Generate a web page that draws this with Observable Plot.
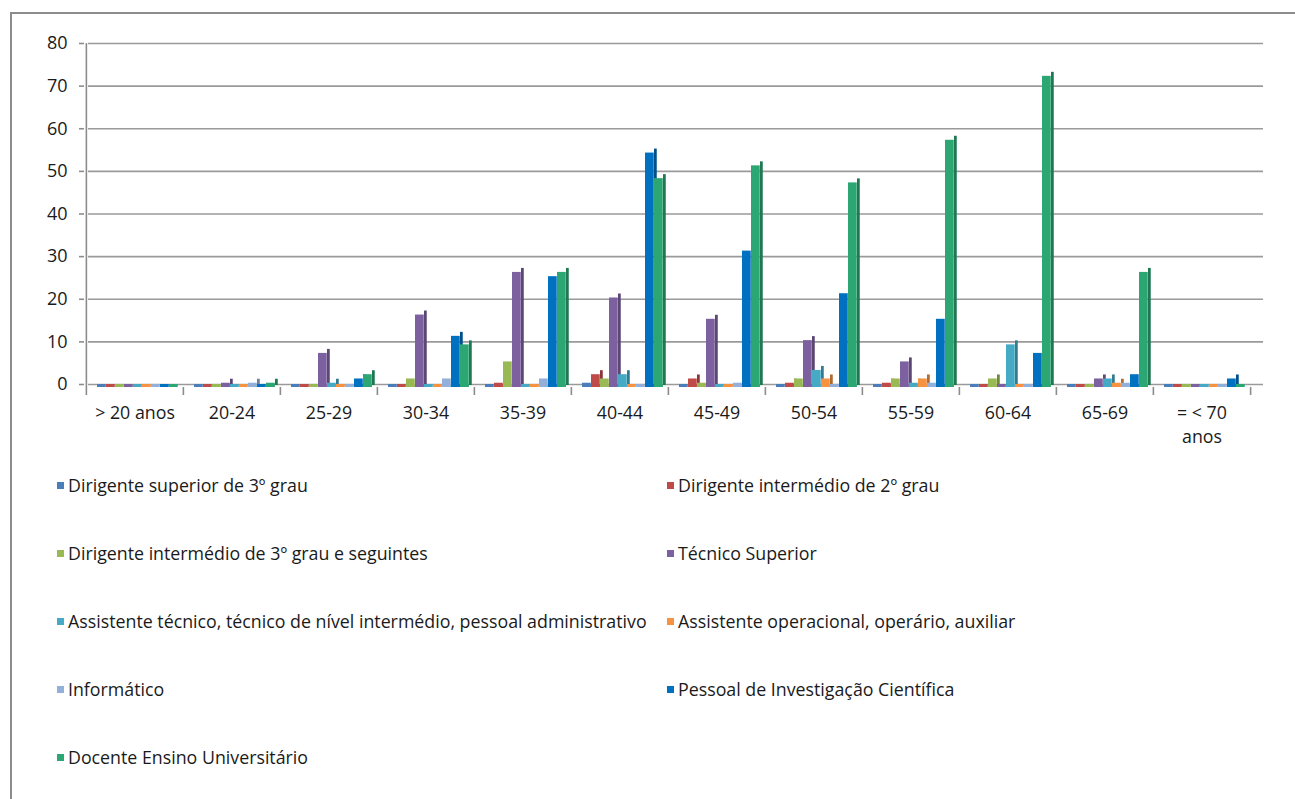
<!DOCTYPE html>
<html>
<head>
<meta charset="utf-8">
<script src="https://cdn.jsdelivr.net/npm/d3@7"></script>
<script src="https://cdn.jsdelivr.net/npm/@observablehq/plot@0.6"></script>
<style>
  body { margin: 0; background: #fff; font-family: "Open Sans", Lato, sans-serif; }
  #wrap { position: relative; width: 1295px; height: 799px; overflow: hidden; background: #fff; }
  #border { position: absolute; left: 10px; top: 12px; width: 1300px; height: 800px; border: 2px solid #8c8c8c; box-sizing: border-box; }
  #chart { position: absolute; left: 0; top: 0; }
  .leg { position: absolute; display: flex; align-items: center; font-size: 17.8px; color: #1a1a1a; white-space: nowrap; line-height: 22px; }
  .leg .sw { width: 7px; height: 7px; margin-right: 4px; flex: none; }
</style>
</head>
<body>
<div id="wrap">
  <div id="border"></div>
  <div id="chart"></div>
  <div id="legend"></div>
</div>
<script>
const categories = ["> 20 anos", "20-24", "25-29", "30-34", "35-39", "40-44", "45-49", "50-54", "55-59", "60-64", "65-69", "= < 70 anos"];
const series = [
  "Dirigente superior de 3º grau",
  "Dirigente intermédio de 2º grau",
  "Dirigente intermédio de 3º grau e seguintes",
  "Técnico Superior",
  "Assistente técnico, técnico de nível intermédio, pessoal administrativo",
  "Assistente operacional, operário, auxiliar",
  "Informático",
  "Pessoal de Investigação Científica",
  "Docente Ensino Universitário"
];
const colors = ["#4a7ebb", "#be4b48", "#98b954", "#7d60a0", "#46aac5", "#f69240", "#92b0d9", "#0070c0", "#2ca673"];

const dirigenteSuperior3 = [0, 0, 0, 0, 0, 1, 0, 0, 0, 0, 0, 0];
const dirigenteIntermedio2 = [0, 0, 0, 0, 1, 3, 2, 1, 1, 0, 0, 0];
const dirigenteIntermedio3 = [0, 0, 0, 2, 6, 2, 1, 2, 2, 2, 0, 0];
const tecnicoSuperior = [0, 1, 8, 17, 27, 21, 16, 11, 6, 0, 2, 0];
const assistenteTecnico = [0, 0, 1, 0, 0, 3, 0, 4, 1, 10, 2, 0];
const assistenteOperacional = [0, 0, 0, 0, 0, 0, 0, 2, 2, 0, 1, 0];
const informatico = [0, 1, 0, 2, 2, 0, 1, 0, 1, 0, 1, 0];
const pessoalInvestigacao = [0, 0, 2, 12, 26, 55, 32, 22, 16, 8, 3, 2];
const docenteUniversitario = [0, 1, 3, 10, 27, 49, 52, 48, 58, 73, 27, 0];

const yTicks = [0, 10, 20, 30, 40, 50, 60, 70, 80];

const seriesValues = [dirigenteSuperior3, dirigenteIntermedio2, dirigenteIntermedio3, tecnicoSuperior,
  assistenteTecnico, assistenteOperacional, informatico, pessoalInvestigacao, docenteUniversitario];

const W = 1295, H = 460, ML = 84, MR = 44, MT = 43, MB = 76;
const step = (W - ML - MR) / categories.length;
const groupOffset = 11, barW = 9, sideW = 3, depth = 3;

const marks = [];
marks.push(Plot.ruleY(yTicks, {y: d => d, stroke: "#9a9a9a", strokeWidth: 1.6, insetLeft: 4, insetRight: -12}));

series.forEach((s, i) => {
  const data = categories.map((c, j) => ({cat: c, serie: s, value: seriesValues[i][j]}));
  const left = groupOffset + i * barW;
  const dark = d3.color(colors[i]).darker(0.9).formatHex();
  // flat floor slab (visible for zero values)
  marks.push(Plot.barY(data, {x: "cat", y1: 0, y2: 0, fill: colors[i],
    insetLeft: left, insetRight: step - left - barW, insetTop: -depth, dy: depth}));
  // side face (only for non-zero bars)
  marks.push(Plot.barY(data.filter(d => d.value > 0), {x: "cat", y1: 0, y2: "value", fill: dark,
    insetLeft: left + barW, insetRight: step - left - barW - sideW, insetTop: -2, dy: depth - 2}));
  // front face
  marks.push(Plot.barY(data.filter(d => d.value > 0), {x: "cat", y1: 0, y2: "value", fill: colors[i],
    insetLeft: left, insetRight: step - left - barW, dy: depth}));
});

// y axis line and x boundary ticks
marks.push(Plot.ruleX([categories[0]], {x: d => d, dx: -step / 2, stroke: "#8c8c8c", strokeWidth: 1.6, insetBottom: -depth}));
marks.push(Plot.ruleX(categories, {x: d => d, y1: 0, y2: 0, insetBottom: -8, dx: -step / 2, dy: depth, stroke: "#8c8c8c", strokeWidth: 1.6}));
marks.push(Plot.ruleX([categories[categories.length - 1]], {x: d => d, y1: 0, y2: 0, insetBottom: -8, dx: step / 2, dy: depth, stroke: "#8c8c8c", strokeWidth: 1.6}));

marks.push(Plot.axisY({ticks: yTicks, tickSize: 5, tickPadding: 12, fontSize: 18, stroke: "#8c8c8c", strokeWidth: 1.6, fill: "#1a1a1a", label: null}));
marks.push(Plot.axisX({tickSize: 0, tickPadding: 17, fontSize: 17.8, fill: "#1a1a1a", label: null, lineHeight: 1.35,
  tickFormat: d => d === "= < 70 anos" ? "= < 70\nanos" : d}));

const chart = Plot.plot({
  width: W, height: H,
  marginLeft: ML, marginRight: MR, marginTop: MT, marginBottom: MB,
  style: {fontFamily: "'Open Sans', Lato, sans-serif", fontSize: "16px", background: "transparent", overflow: "visible"},
  x: {type: "band", domain: categories, padding: 0, axis: null},
  y: {domain: [0, 80], axis: null},
  marks
});
document.getElementById("chart").appendChild(chart);

const legend = document.getElementById("legend");
series.forEach((s, i) => {
  const col = i % 2, row = Math.floor(i / 2);
  const el = document.createElement("div");
  el.className = "leg";
  el.style.left = (col === 0 ? 57 : 667) + "px";
  el.style.top = (485 + row * 68 - 11) + "px";
  el.innerHTML = `<span class="sw" style="background:${colors[i]}"></span><span></span>`;
  el.lastChild.textContent = s;
  legend.appendChild(el);
});
</script>
</body>
</html>
